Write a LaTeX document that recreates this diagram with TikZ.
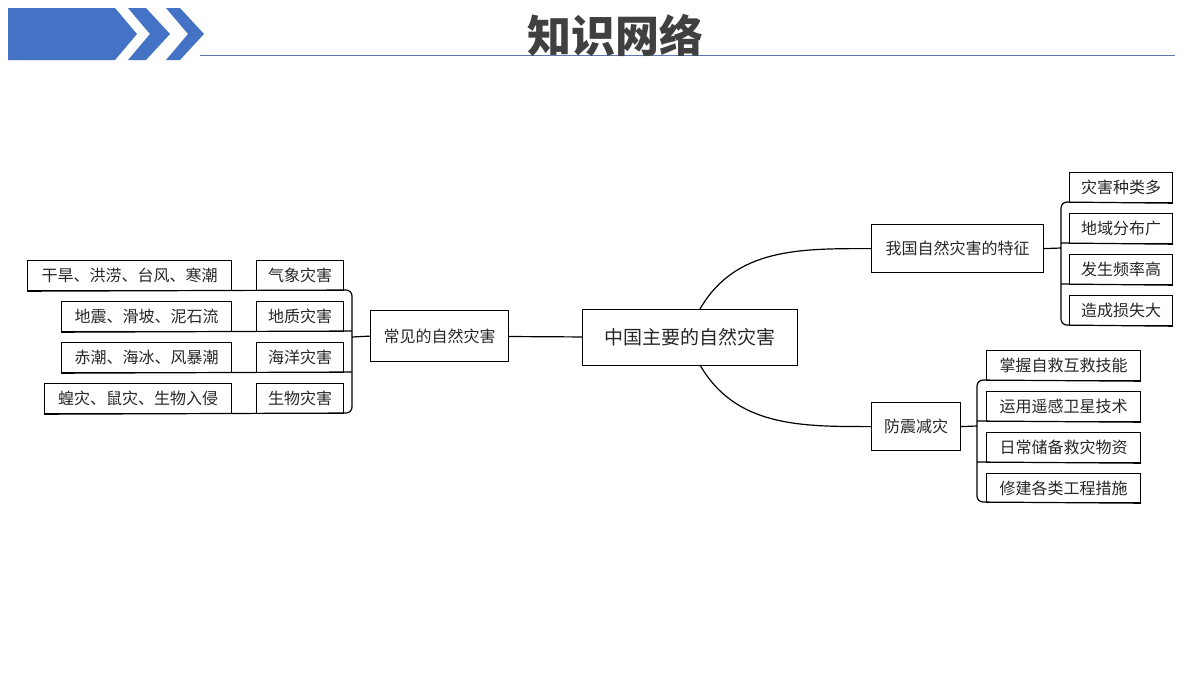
\documentclass[tikz,border=0pt]{standalone}
\usepackage{fontspec}
\setmainfont{Noto Sans CJK SC}
\usetikzlibrary{positioning}
\definecolor{hdblue}{RGB}{68,114,196}
\tikzset{
  box/.style={draw=black, line width=0.6pt, inner sep=0pt, font=\fontsize{8}{9}\selectfont, text=black!85},
  link/.style={line width=0.6pt},
}
\newcommand{\leafbox}[6]{% name, x1, y1, x2, y2, text
  \node[box, minimum width={(#4-#2)*0.5pt}, minimum height={(#5-#3)*0.5pt}, anchor=north west] (#1) at (#2,#3) {#6};}
\begin{document}
\begin{tikzpicture}[x=0.5pt,y=-0.5pt]
  \useasboundingbox (0,0) rectangle (1200,675);
  % header
  \fill[hdblue] (8,8) -- (115,8) -- (137,34) -- (115,60) -- (8,60) -- cycle;
  \fill[hdblue] (128,8) -- (146,8) -- (170,34) -- (146,60) -- (128,60) -- (150,34) -- cycle;
  \fill[hdblue] (166,8) -- (180,8) -- (204,34) -- (180,60) -- (166,60) -- (188,34) -- cycle;
  \draw[color=hdblue!60!gray, line width=0.5pt] (200,55) -- (1175,55);
  \node[font=\fontsize{22}{24}\selectfont\bfseries, text=black!75] (title) at (615,35) {知识网络};

  % centre and branches
  \leafbox{root}{582}{309}{797}{365}{\fontsize{9.5}{11}\selectfont 中国主要的自然灾害}
  \leafbox{common}{370}{310}{508}{361}{常见的自然灾害}
  \leafbox{feature}{871}{224}{1043}{272}{我国自然灾害的特征}
  \leafbox{prevent}{871}{402}{960}{450}{防震减灾}

  \draw[link] (root) -- (common);
  \draw[link] (700,309) to[out=60, in=180] (feature.west);
  \draw[link] (700,365) to[out=-60, in=180] (prevent.west);

  % left leaves
  \leafbox{qx}{256}{260}{343}{290}{气象灾害}
  \leafbox{qxa}{27}{260}{231}{290}{干旱、洪涝、台风、寒潮}
  \leafbox{dz}{256}{301}{343}{331}{地质灾害}
  \leafbox{dza}{61}{301}{231}{331}{地震、滑坡、泥石流}
  \leafbox{hy}{256}{342}{343}{372}{海洋灾害}
  \leafbox{hya}{61}{342}{231}{372}{赤潮、海冰、风暴潮}
  \leafbox{sw}{256}{383}{343}{413}{生物灾害}
  \leafbox{swa}{44}{383}{231}{413}{蝗灾、鼠灾、生物入侵}
  \draw[link] (common.west) -- (352,337);
  \draw[link, rounded corners=3pt] (qxa.south west) -- (352,290) -- (352,413) -- (swa.south west);
  \draw[link] (dza.south west) -- (352,331);
  \draw[link] (hya.south west) -- (352,372);

  % upper right leaves
  \leafbox{f1}{1069}{172}{1172}{202}{灾害种类多}
  \leafbox{f2}{1069}{213}{1172}{243}{地域分布广}
  \leafbox{f3}{1069}{254}{1172}{284}{发生频率高}
  \leafbox{f4}{1069}{295}{1172}{325}{造成损失大}
  \draw[link] (feature.east) -- (1061,248);
  \draw[link, rounded corners=3pt] (f1.south east) -- (1061,202) -- (1061,325) -- (f4.south east);
  \draw[link] (1061,243) -- (f2.south east);
  \draw[link] (1061,284) -- (f3.south east);

  % lower right leaves
  \leafbox{p1}{986}{350}{1140}{380}{掌握自救互救技能}
  \leafbox{p2}{986}{391}{1140}{421}{运用遥感卫星技术}
  \leafbox{p3}{986}{432}{1140}{462}{日常储备救灾物资}
  \leafbox{p4}{986}{473}{1140}{502}{修建各类工程措施}
  \draw[link] (prevent.east) -- (977,426);
  \draw[link, rounded corners=3pt] (p1.south east) -- (977,380) -- (977,502) -- (p4.south east);
  \draw[link] (977,421) -- (p2.south east);
  \draw[link] (977,462) -- (p3.south east);
\end{tikzpicture}
\end{document}
